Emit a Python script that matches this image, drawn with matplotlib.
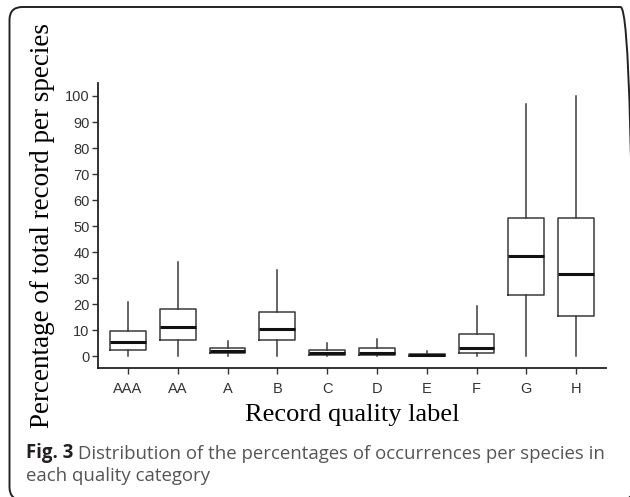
import matplotlib.pyplot as plt
from matplotlib.patches import FancyBboxPatch

# Boxplot summaries (percent of records per species)
etiquetas = ['AAA', 'AA', 'A', 'B', 'C', 'D', 'E', 'F', 'G', 'H']
bigote_inf = [0, 0, 0, 0, 0, 0, 0, 0, 0, 0]
q1 = [2.2, 6.0, 1.0, 6.2, 0.3, 0.4, 0.1, 1.0, 23.5, 15.3]
mediana = [5.3, 11.0, 1.8, 10.5, 1.0, 1.3, 0.4, 3.0, 38.6, 31.4]
q3 = [9.7, 18.1, 3.0, 17.1, 2.4, 3.0, 0.9, 8.5, 53.0, 53.2]
bigote_sup = [20.9, 36.3, 5.9, 33.1, 5.1, 6.4, 1.9, 19.2, 96.9, 100.0]
yticks = [0, 10, 20, 30, 40, 50, 60, 70, 80, 90, 100]

stats = []
for i in range(len(etiquetas)):
    stats.append({'label': etiquetas[i], 'whislo': bigote_inf[i], 'q1': q1[i],
                  'med': mediana[i], 'q3': q3[i], 'whishi': bigote_sup[i], 'fliers': []})

fig = plt.figure(figsize=(6.3, 4.97), dpi=100)
ax = fig.add_axes([0.1556, 0.2596, 0.8064, 0.5734])

gris = '#3a3a3a'
ax.bxp(stats, positions=range(1, 11), widths=0.72, showcaps=False,
       boxprops=dict(color=gris, linewidth=1.1),
       whiskerprops=dict(color=gris, linewidth=1.1),
       medianprops=dict(color='#111111', linewidth=2.2))

ax.set_xlim(0.4, 10.6)
ax.set_ylim(-4.6, 105)
ax.set_yticks(yticks)
ax.set_xticks(range(1, 11))
ax.set_xticklabels(etiquetas)
for s in ['top', 'right']:
    ax.spines[s].set_visible(False)
for s in ['left', 'bottom']:
    ax.spines[s].set_linewidth(1.3)
    ax.spines[s].set_color('#222222')
ax.tick_params(length=4, width=1.0, color='#333333', labelsize=10.5,
               labelcolor='#333333')
ax.tick_params(axis='x', pad=6)
ax.tick_params(axis='y', pad=2)
for t in ax.get_xticklabels() + ax.get_yticklabels():
    t.set_fontfamily('Liberation Sans')

ax.set_xlabel('Record quality label', fontsize=19, family='Liberation Serif', labelpad=6)
ax.set_ylabel('Percentage of total record per species', fontsize=19.5,
              family='Liberation Serif', labelpad=7)

# caption
fig_txt = fig.text(26 / 630, 1 - 458 / 497, 'Fig. 3', fontsize=13.4, fontweight='bold',
                   family='Open Sans', color='#231F20', va='baseline')
ax.annotate(' Distribution of the percentages of occurrences per species in',
            xy=(1, 0), xycoords=fig_txt, va='bottom', fontsize=13.4,
            family='Open Sans', color='#555555', annotation_clip=False)
fig.text(26 / 630, 1 - 481 / 497, 'each quality category', fontsize=13.4,
         family='Open Sans', color='#555555', va='baseline')

# rounded frame (in inches, runs past the right and bottom edges)
marco = FancyBboxPatch((0.095, -0.03), 6.24, 4.93,
                       boxstyle='round,pad=0,rounding_size=0.13',
                       transform=fig.dpi_scale_trans, fill=False,
                       edgecolor='#222222', linewidth=1.4)
fig.patches.append(marco)

plt.savefig('out.png', dpi=100)
